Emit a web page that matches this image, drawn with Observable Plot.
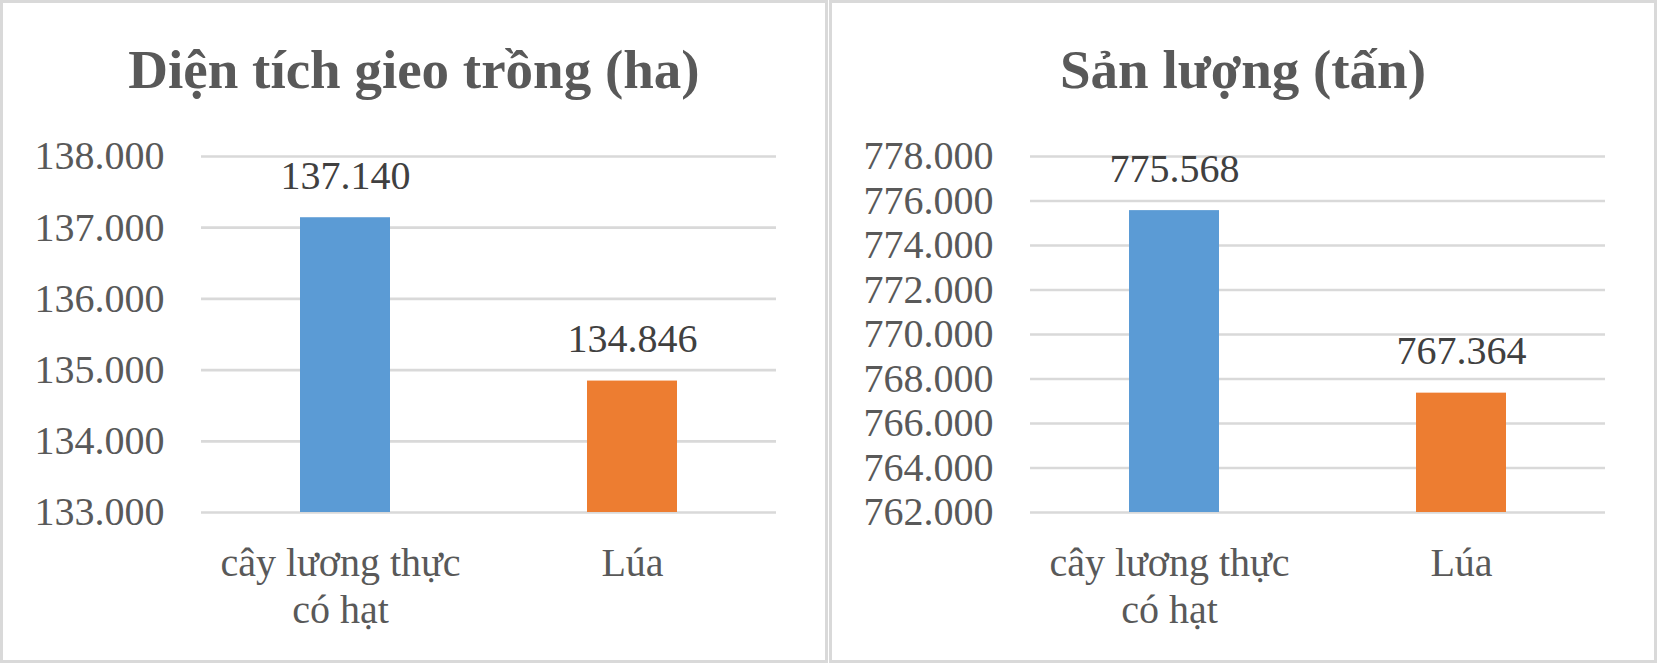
<!DOCTYPE html>
<html>
<head>
<meta charset="utf-8">
<script src="https://cdn.jsdelivr.net/npm/d3@7"></script>
<script src="https://cdn.jsdelivr.net/npm/@observablehq/plot@0.6"></script>
<style>
  html, body { margin: 0; padding: 0; background: #fff; }
  #wrap { position: relative; width: 1657px; height: 663px; overflow: hidden; }
  .panel { position: absolute; top: 0; width: 828px; height: 663px; box-sizing: border-box;
           border: 3px solid #d9d9d9; background: #fff; }
  .panel .title { position: absolute; left: 0; width: 100%; top: 39px; text-align: center;
           font-family: "Liberation Serif", "Times New Roman", serif; font-weight: bold;
           font-size: 55px; line-height: 55px; color: #595959; z-index: 2; white-space: nowrap; }
  .panel .chart { position: absolute; left: 0; top: 0; }
</style>
</head>
<body>
<div id="wrap">
  <div class="panel" id="p1" style="left:0px"><div class="title" id="t1"></div><div class="chart" id="c1"></div></div>
  <div class="panel" id="p2" style="left:829px"><div class="title" id="t2"></div><div class="chart" id="c2"></div></div>
</div>
<script>
// ---- data ----
const categories = ["cây lương thực có hạt", "Lúa"];
const categoryLabels = ["cây lương thực \ncó hạt ", "Lúa"];
const barColors = ["#5B9BD5", "#ED7D31"];

const areaTitle = "Diện tích gieo trồng (ha)";
const areaValues = [137140, 134846];
const areaTicks = [133000, 134000, 135000, 136000, 137000, 138000];

const outputTitle = "Sản lượng (tấn)";
const outputValues = [775568, 767364];
const outputTicks = [762000, 764000, 766000, 768000, 770000, 772000, 774000, 776000, 778000];

// ---- helpers ----
const fmt = v => d3.format(",")(v).replace(/,/g, ".");
const labelOf = new Map(categories.map((c, i) => [c, categoryLabels[i]]));
const FONT = "'Liberation Serif', 'Times New Roman', serif";

function panel(title, values, ticks, titleEl, chartEl) {
  document.getElementById(titleEl).textContent = title;
  const data = categories.map((c, i) => ({cat: c, value: values[i], color: barColors[i]}));
  const ymin = ticks[0], ymax = ticks[ticks.length - 1];
  const chart = Plot.plot({
    width: 822,
    height: 657,
    marginLeft: 198,
    marginRight: 49,
    marginTop: 153,
    marginBottom: 148,
    style: {fontFamily: FONT, fontSize: "40px", color: "#595959", background: "transparent", overflow: "visible"},
    x: {domain: categories, paddingInner: 0.6875, paddingOuter: 0.34375, label: null},
    y: {domain: [ymin, ymax], ticks: ticks, label: null},
    marks: [
      Plot.gridY(ticks, {stroke: "#d9d9d9", strokeOpacity: 1, strokeWidth: 2.7}),
      Plot.barY(data, {x: "cat", y1: ymin, y2: "value", fill: "color"}),
      Plot.text(data, {x: "cat", y: "value", text: d => fmt(d.value), lineAnchor: "bottom", dy: -29,
                       fill: "#404040", fontSize: 40}),
      Plot.axisY(ticks, {tickSize: 0, tickPadding: 37, tickFormat: fmt, fontSize: 40, label: null}),
      Plot.axisX({tickSize: 0, tickPadding: 30, tickFormat: d => labelOf.get(d), fontSize: 40,
                  lineHeight: 1.17, label: null})
    ]
  });
  document.getElementById(chartEl).appendChild(chart);
}

panel(areaTitle, areaValues, areaTicks, "t1", "c1");
panel(outputTitle, outputValues, outputTicks, "t2", "c2");
</script>
</body>
</html>
